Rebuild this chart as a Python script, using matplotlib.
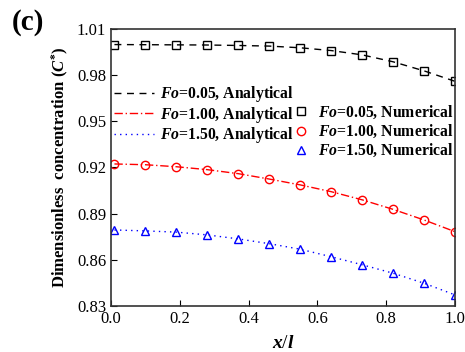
import matplotlib
matplotlib.use("Agg")
from matplotlib import pyplot as plt
from matplotlib.lines import Line2D

plt.rcParams['font.family'] = 'Liberation Serif'
plt.rcParams['mathtext.fontset'] = 'custom'
plt.rcParams['mathtext.rm'] = 'Liberation Serif:bold'
plt.rcParams['mathtext.it'] = 'Liberation Serif:italic:bold'
plt.rcParams['mathtext.bf'] = 'Liberation Serif:bold'

# data
x_pos = [0.01, 0.10, 0.19, 0.28, 0.37, 0.46, 0.55, 0.64, 0.73, 0.82, 0.91, 1.00]
fo005 = [0.9999, 0.9998, 0.9997, 0.9996, 0.9993, 0.9989, 0.9978, 0.9960, 0.9932, 0.9887, 0.9828, 0.9760]
fo100 = [0.9223, 0.9218, 0.9205, 0.9186, 0.9160, 0.9125, 0.9087, 0.9043, 0.8990, 0.8928, 0.8859, 0.8783]
fo150 = [0.8794, 0.8788, 0.8780, 0.8762, 0.8736, 0.8705, 0.8669, 0.8620, 0.8568, 0.8513, 0.8448, 0.8372]
fo_labels = ["0.05", "1.00", "1.50"]
colors = ["black", "red", "blue"]
styles = [(0, (5, 4)), (0, (6, 2, 1, 2)), (0, (1, 3))]
markers = ["s", "o", "^"]
yticks = [0.83, 0.86, 0.89, 0.92, 0.95, 0.98, 1.01]
xticks = [0.0, 0.2, 0.4, 0.6, 0.8, 1.0]

fig = plt.figure(figsize=(4.65, 3.52), dpi=100)
ax = fig.add_axes([0.2387, 0.1307, 0.7398, 0.7869])

series = [fo005, fo100, fo150]
for i in range(3):
    ax.plot(x_pos, series[i], color=colors[i], linestyle=styles[i], lw=1.0)
    ax.plot(x_pos, series[i], linestyle='none', marker=markers[i], ms=6,
            mfc='none', mec=colors[i], mew=1.0)

ax.set_xlim(0, 1.0)
ax.set_ylim(0.83, 1.01)
ax.set_xticks(xticks)
ax.set_xticklabels(["%.1f" % v for v in xticks])
ax.set_yticks(yticks)
ax.set_yticklabels(["%.2f" % v for v in yticks])
ax.tick_params(direction='in', labelsize=12, length=4)
for s in ax.spines.values():
    s.set_linewidth(1.2)
    s.set_color('#333333')

ax.set_xlabel(r"$x$/$l$", fontsize=14, labelpad=6)
ax.set_ylabel(r"Dimensionless  concentration ($\mathit{C}^{*}$)",
              fontsize=12, fontweight='bold', labelpad=4)

fig.text(0.025, 0.915, "(c)", fontsize=21, fontweight='bold')

line_handles = [Line2D([], [], color=colors[i], linestyle=styles[i], lw=1.0) for i in range(3)]
line_labels = [r"$Fo$=%s, Analytical" % f for f in fo_labels]
leg1 = ax.legend(line_handles, line_labels, loc='upper left', bbox_to_anchor=(0.01, 0.80),
                 frameon=False, fontsize=11.3, handlelength=2.5, handletextpad=0.4,
                 labelspacing=0.02, borderaxespad=0, borderpad=0)
for t in leg1.get_texts():
    t.set_fontweight('bold')
ax.add_artist(leg1)

mk_handles = [Line2D([], [], linestyle='none', marker=markers[i], ms=6, mfc='none',
                     mec=colors[i], mew=1.0) for i in range(3)]
mk_labels = [r"$Fo$=%s, Numerical" % f for f in fo_labels]
leg2 = ax.legend(mk_handles, mk_labels, loc='upper right', bbox_to_anchor=(0.995, 0.73),
                 frameon=False, fontsize=11.3, handlelength=1.0, handletextpad=0.6,
                 labelspacing=0.12, borderaxespad=0, borderpad=0)
for t in leg2.get_texts():
    t.set_fontweight('bold')

fig.savefig("out.png", dpi=100)
